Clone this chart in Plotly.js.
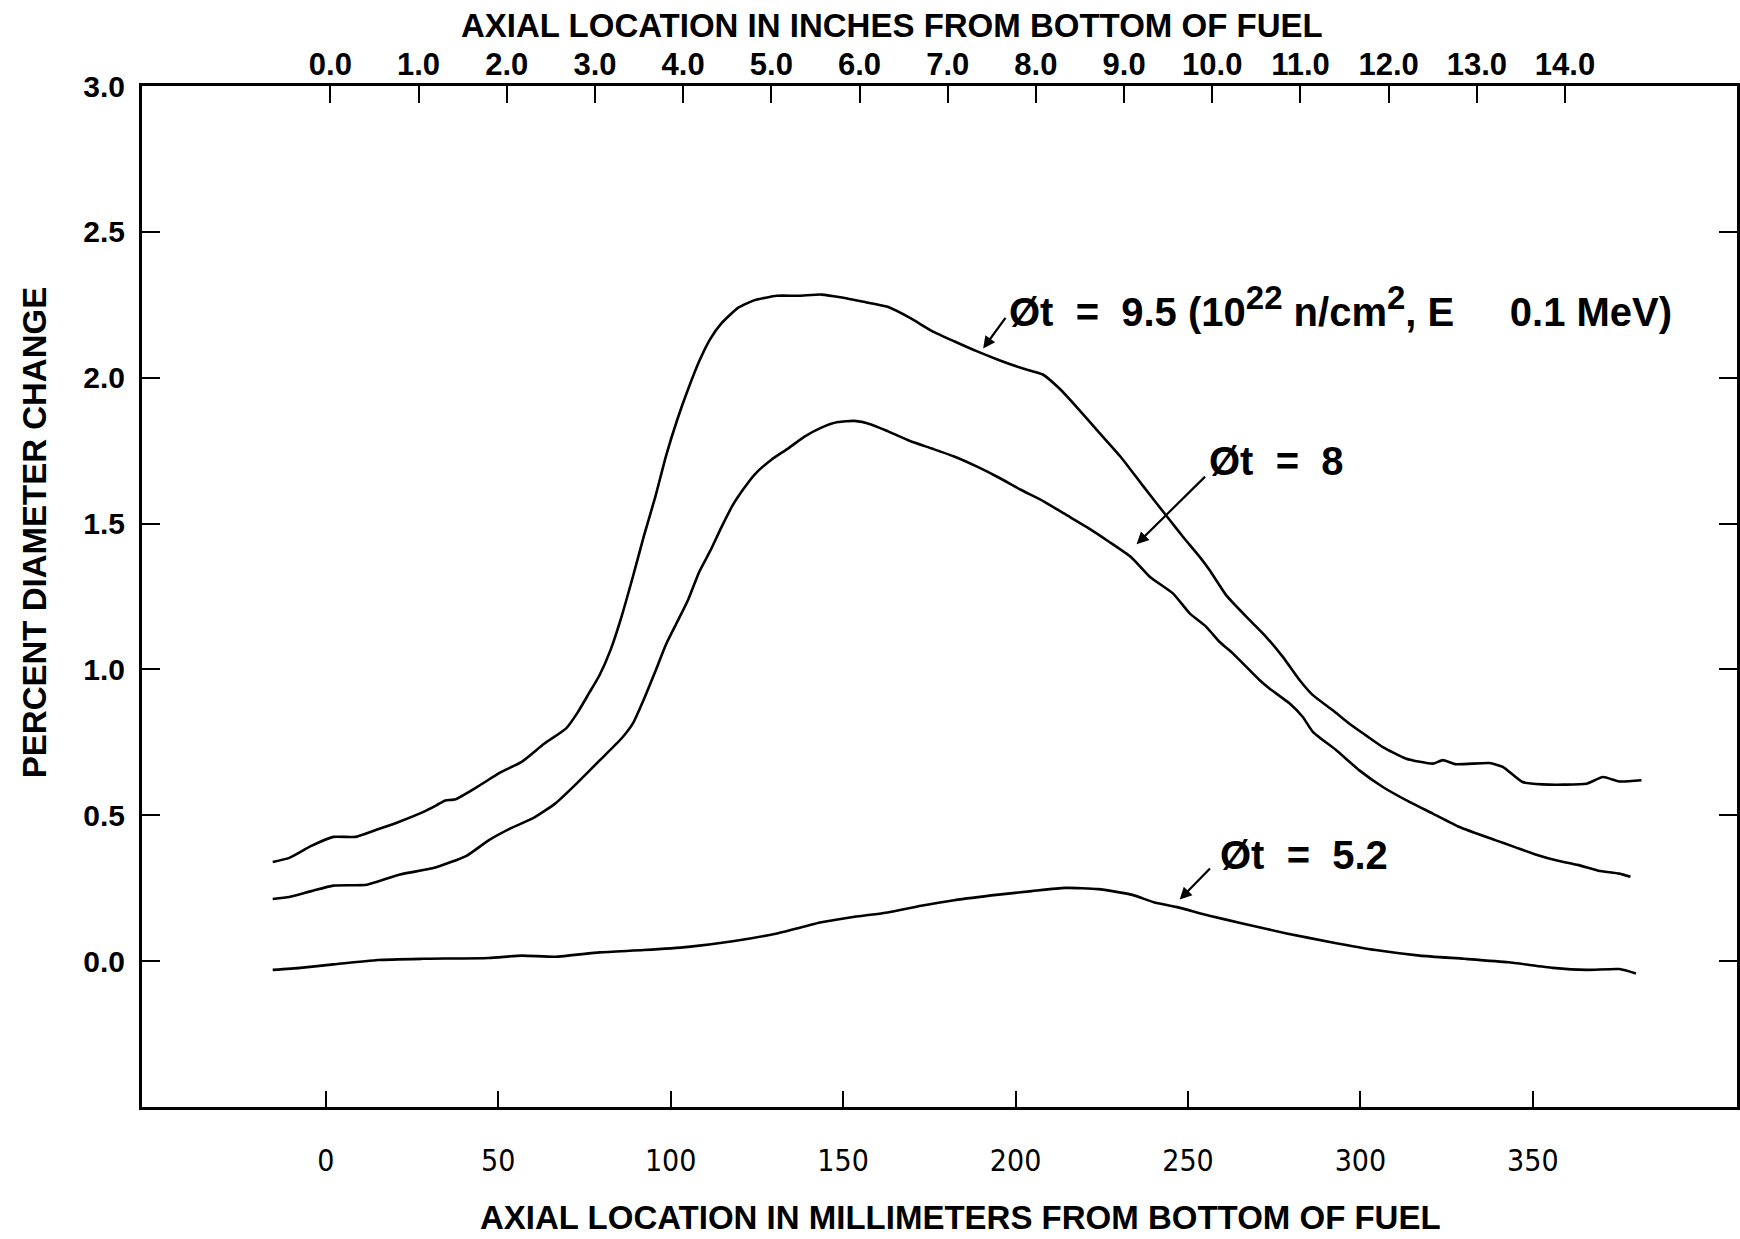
<!DOCTYPE html>
<html>
<head>
<meta charset="utf-8">
<script src="https://cdn.plot.ly/plotly-3.0.1.min.js"></script>
<style>html,body{margin:0;padding:0;background:#fff;}#chart{width:1740px;height:1239px;}</style>
</head>
<body>
<div id="chart"></div>
<script>
// ---- data (mm from bottom of fuel, percent diameter change) ----
const mm95 = [-15.4,-10.6,-4.2,2.2,8.7,15.1,21.5,28.0,32.2,34.5,37.6,44.0,50.5,56.9,63.3,69.7,73.0,76.2,79.4,82.6,85.8,89.0,92.2,95.5,98.7,101.9,105.1,108.3,111.5,114.7,119.6,124.4,130.8,137.2,143.7,150.1,156.5,162.9,169.4,175.8,182.2,188.7,195.1,201.5,207.9,212.8,217.6,224.0,230.4,236.9,244.7,248.6,253.4,256.3,261.1,267.9,272.7,277.5,282.4,286.2,292.0,296.8,301.6,306.5,313.3,321.0,323.9,327.7,337.4,341.3,347.0,352.8,359.0,365.5,370.3,375.1,381.5];
const pct95 = [0.34,0.354,0.395,0.426,0.426,0.452,0.479,0.51,0.535,0.55,0.555,0.598,0.646,0.684,0.745,0.798,0.852,0.916,0.981,1.068,1.183,1.316,1.456,1.59,1.734,1.856,1.962,2.057,2.133,2.186,2.24,2.266,2.281,2.281,2.285,2.274,2.259,2.243,2.205,2.16,2.125,2.091,2.061,2.034,2.011,1.962,1.901,1.815,1.73,1.63,1.512,1.454,1.386,1.34,1.254,1.169,1.111,1.043,0.963,0.912,0.86,0.814,0.774,0.734,0.694,0.677,0.689,0.675,0.679,0.666,0.614,0.606,0.605,0.608,0.631,0.616,0.62];

const mm80 = [-15.4,-10.6,-4.2,2.2,11.9,21.5,31.2,40.8,47.2,53.7,60.1,66.5,73.0,79.4,85.8,89.0,92.2,95.5,98.7,101.9,105.1,108.3,111.5,114.7,118.0,121.2,124.4,129.2,134.0,138.8,143.7,148.5,153.3,158.1,162.9,169.4,175.8,182.2,188.7,195.1,201.5,207.9,214.4,220.8,227.2,233.6,238.9,245.7,250.5,255.3,259.2,263.0,270.8,273.7,279.5,283.3,286.2,293.0,299.7,306.5,314.2,321.0,328.7,339.3,345.0,351.0,357.0,363.0,369.0,375.1,378.3];
const pct80 = [0.213,0.22,0.24,0.259,0.262,0.297,0.319,0.361,0.414,0.456,0.49,0.54,0.612,0.688,0.764,0.814,0.897,0.992,1.087,1.163,1.24,1.335,1.407,1.487,1.563,1.62,1.669,1.719,1.757,1.798,1.829,1.848,1.852,1.84,1.817,1.783,1.757,1.73,1.696,1.658,1.616,1.578,1.532,1.487,1.437,1.384,1.318,1.26,1.192,1.146,1.094,1.055,0.963,0.934,0.883,0.837,0.786,0.723,0.654,0.597,0.546,0.506,0.46,0.414,0.39,0.365,0.345,0.33,0.31,0.3,0.289];

const mm52 = [-15.4,-7.4,2.2,15.1,28.0,47.2,56.9,66.5,79.4,92.2,105.1,118.0,130.8,143.7,153.3,162.9,172.6,182.2,195.1,204.7,214.4,224.0,233.6,240.1,246.5,256.2,265.8,278.6,291.5,304.4,317.2,330.1,342.9,355.8,365.5,375.1,379.9];
const pct52 = [-0.03,-0.023,-0.011,0.004,0.008,0.011,0.019,0.015,0.03,0.038,0.049,0.068,0.095,0.133,0.152,0.167,0.19,0.209,0.228,0.24,0.251,0.247,0.228,0.202,0.186,0.156,0.129,0.095,0.065,0.038,0.019,0.008,-0.004,-0.023,-0.03,-0.027,-0.042];

// ---- axis ticks ----
const mmTicks = [0,50,100,150,200,250,300,350];
const inchTicks = [0,1,2,3,4,5,6,7,8,9,10,11,12,13,14];
const inchLabels = ["0.0","1.0","2.0","3.0","4.0","5.0","6.0","7.0","8.0","9.0","10.0","11.0","12.0","13.0","14.0"];
const yTicks = [0,0.5,1.0,1.5,2.0,2.5,3.0];
const yLabels = ["0.0","0.5","1.0","1.5","2.0","2.5","3.0"];

const lineStyle = {color:'#000', width:2.6, shape:'spline', smoothing:0.5};
const traces = [
  {x:mm95, y:pct95, mode:'lines', line:lineStyle, showlegend:false, hoverinfo:'skip'},
  {x:mm80, y:pct80, mode:'lines', line:lineStyle, showlegend:false, hoverinfo:'skip'},
  {x:mm52, y:pct52, mode:'lines', line:lineStyle, showlegend:false, hoverinfo:'skip'},
  {x:inchTicks, y:inchTicks.map(()=>null), xaxis:'x2', yaxis:'y', mode:'lines', showlegend:false, hoverinfo:'skip'}
];

const BOLD = 'Liberation Sans, Arial, sans-serif';
const NARROW = 'Liberation Sans Narrow, Arial Narrow, DejaVu Sans Condensed, sans-serif';
const NB = '\u00A0';
const SUP = s => '<sup><span style="font-size:33px">' + s + '</span></sup>';

const annFont = {family:BOLD, size:40, color:'#000', weight:700};
const arrow = {showarrow:true, arrowhead:2, arrowsize:1.1, arrowwidth:2.2, arrowcolor:'#000', text:'', axref:'x', ayref:'y'};

const layout = {
  width:1740, height:1239,
  margin:{l:142, r:3, t:86, b:132},
  paper_bgcolor:'#fff', plot_bgcolor:'#fff',
  showlegend:false,
  xaxis:{
    range:[-53.3,409.2], tickvals:mmTicks, ticktext:mmTicks.map(String),
    ticks:'inside', ticklen:16, tickwidth:2, tickcolor:'#000',
    showline:true, linewidth:3, linecolor:'#000', mirror:false,
    showgrid:false, zeroline:false, ticklabelstandoff:25,
    tickfont:{family:NARROW, size:30, color:'#000'}
  },
  xaxis2:{
    overlaying:'x', side:'top', anchor:'y',
    range:[-2.136,15.95], tickvals:inchTicks, ticktext:inchLabels,
    ticks:'inside', ticklen:17, tickwidth:2, tickcolor:'#000',
    showline:true, linewidth:3, linecolor:'#000',
    showgrid:false, zeroline:false, ticklabelstandoff:-4,
    tickfont:{family:BOLD, size:31, color:'#000', weight:700}
  },
  yaxis:{
    range:[-0.5,3.0], tickvals:yTicks, ticktext:yLabels,
    ticks:'inside', ticklen:18, tickwidth:2, tickcolor:'#000',
    showline:true, linewidth:3, linecolor:'#000', mirror:'ticks',
    showgrid:false, zeroline:false, ticklabelstandoff:8,
    tickfont:{family:BOLD, size:30, color:'#000', weight:700}
  },
  annotations:[
    {xref:'paper', yref:'paper', x:0.470, y:1.059, xanchor:'center', yanchor:'middle', showarrow:false,
     text:'AXIAL LOCATION IN INCHES FROM BOTTOM OF FUEL', font:{family:BOLD, size:33, color:'#000', weight:700}},
    {xref:'paper', yref:'paper', x:0.513, y:-0.108, xanchor:'center', yanchor:'middle', showarrow:false,
     text:'AXIAL LOCATION IN MILLIMETERS FROM BOTTOM OF FUEL', font:{family:BOLD, size:33, color:'#000', weight:700}},
    {xref:'paper', yref:'paper', x:-0.0677, y:0.562, xanchor:'center', yanchor:'middle', showarrow:false, textangle:-90,
     text:'PERCENT DIAMETER CHANGE', font:{family:BOLD, size:33, color:'#000', weight:700}},
    {xref:'x', yref:'y', x:197.4, y:2.245, xanchor:'left', yanchor:'middle', showarrow:false,
     text:'Øt'+NB+NB+'='+NB+NB+'9.5 (10'+SUP('22')+' n/cm'+SUP('2')+', E'+NB+NB+NB+NB+NB+'0.1 MeV)', font:annFont},
    Object.assign({xref:'x', yref:'y', x:190.6, y:2.10, ax:197.4, ay:2.21}, arrow),
    {xref:'x', yref:'y', x:255.6, y:1.715, xanchor:'left', yanchor:'middle', showarrow:false,
     text:'Øt'+NB+NB+'='+NB+NB+'8', font:annFont},
    Object.assign({xref:'x', yref:'y', x:235.1, y:1.429, ax:255.4, ay:1.666}, arrow),
    {xref:'x', yref:'y', x:258.7, y:0.363, xanchor:'left', yanchor:'middle', showarrow:false,
     text:'Øt'+NB+NB+'='+NB+NB+'5.2', font:annFont},
    Object.assign({xref:'x', yref:'y', x:247.6, y:0.211, ax:256.8, ay:0.323}, arrow)
  ]
};

Plotly.newPlot('chart', traces, layout, {staticPlot:true, displayModeBar:false});
</script>
</body>
</html>
